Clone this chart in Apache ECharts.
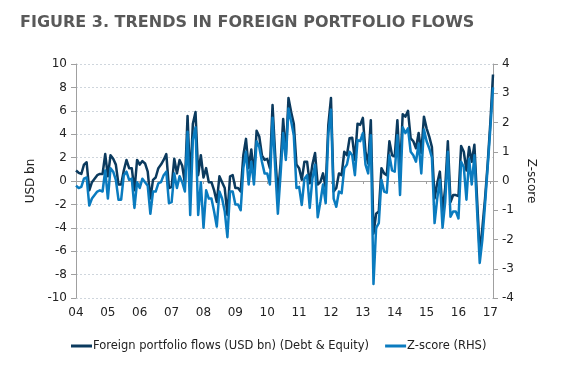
<!DOCTYPE html>
<html>
<head>
<meta charset="utf-8">
<script src="https://cdn.jsdelivr.net/npm/echarts@6/dist/echarts.min.js"></script>
<style>html,body{margin:0;padding:0;background:#fff}#c{width:580px;height:370px}</style>
</head>
<body>
<div id="c"></div>
<script>
var titleText = 'FIGURE 3. TRENDS IN FOREIGN PORTFOLIO FLOWS';
var seriesNames = ['Foreign portfolio flows (USD bn) (Debt & Equity)', 'Z-score (RHS)'];
var years = ['04','05','06','07','08','09','10','11','12','13','14','15','16','17'];
var months = ['01','02','03','04','05','06','07','08','09','10','11','12'];
var nPoints = 158; // Jan 2004 .. Feb 2017
var leftTicks = {min: -10, max: 10, step: 2};
var rightTicks = {min: -4, max: 4, step: 1};

var flows = [
 0.9,0.7,0.6,1.4,1.6,-0.8,-0.1,0.2,0.5,0.6,0.6,2.3,
 0.4,2.2,1.9,1.4,-0.3,-0.3,0.9,1.8,1.1,1.1,-0.8,1.8,
 1.4,1.7,1.5,0.8,-1.5,0.1,0.3,1.1,1.4,1.8,2.3,-0.6,
 -0.5,1.9,0.65,1.8,1.3,-0.2,5.55,-0.1,4.9,5.9,0.5,2.2,
 0.3,1.1,-0.1,-0.1,-0.8,-1.8,0.4,-0.1,-0.6,-2.9,0.4,0.5,
 -0.6,-0.6,-0.9,2.2,3.6,1.1,2.7,0.5,4.3,3.8,2.2,1.8,
 1.9,1.1,6.5,2.2,-1.2,1.4,5.3,2.2,7.1,5.9,4.9,1.4,
 1.1,0.1,1.65,1.65,-0.2,1.4,2.4,-0.3,-0.1,0.65,-0.6,4.8,
 7.1,-0.9,-0.6,0.65,0.5,2.5,2.2,3.65,3.7,1.8,4.9,4.8,
 5.4,2.5,1.5,5.2,-4.5,-2.8,-2.6,1.1,0.65,0.5,3.4,2.2,
 2.1,5.2,0.8,5.7,5.5,6.0,3.65,3.4,2.8,4.1,2.4,5.5,
 4.5,3.8,2.9,-1.5,-0.2,0.8,-2.6,-0.6,3.4,-1.8,-1.2,-1.2,
 -1.3,3.0,2.5,0.9,2.9,1.65,3.1,-1.5,-6.2,-4.0,-1.5,1.5,
 5.0,9.1
];
var zscore = [
 -0.16,-0.24,-0.2,0.08,0.12,-0.84,-0.6,-0.48,-0.36,-0.32,-0.36,0.36,
 -0.6,0.44,0.32,0.04,-0.64,-0.64,0.2,0.32,0.04,0.08,-0.92,-0.04,
 -0.24,0.08,-0.04,-0.16,-1.12,-0.36,-0.36,-0.08,-0.04,0.2,0.32,-0.76,
 -0.72,0.26,-0.24,0.16,-0.04,-0.36,1.68,-1.16,1.4,1.84,-1.16,-0.04,
 -1.6,-0.32,-0.6,-0.6,-1.04,-1.56,-0.36,-0.6,-1.04,-1.92,-0.36,-0.36,
 -0.8,-0.8,-1.0,0.44,1.0,-0.12,0.66,-0.12,1.36,1.16,0.66,0.26,
 0.26,-0.12,2.16,0.44,-1.12,0.2,1.64,0.72,2.48,2.04,1.56,-0.24,
 -0.2,-0.82,0.08,0.2,-0.92,0.08,0.56,-1.24,-0.72,-0.12,-0.76,1.6,
 2.44,-0.6,-0.88,-0.36,-0.42,0.44,0.56,1.0,0.88,0.2,1.4,1.36,
 1.64,0.56,0.26,1.56,-3.52,-1.6,-1.44,0.04,-0.36,-0.4,0.88,0.36,
 0.32,1.56,-0.48,1.84,1.64,1.8,1.0,0.88,0.66,1.28,0.26,1.76,
 1.36,1.12,0.8,-1.44,-0.6,0.04,-1.6,-0.72,1.0,-1.22,-1.04,-1.04,
 -1.28,0.66,0.48,-0.64,0.76,-0.12,0.88,-1.0,-2.8,-2.0,-0.8,0.48,
 1.8,3.2
];

var categories = [];
years.forEach(function (y) { months.forEach(function (m) { categories.push(y + '-' + m); }); });
categories = categories.slice(0, nPoints);

var darkColor = '#0b3a5e';
var lightColor = '#0a7bbf';
var font = 'DejaVu Sans';
var isYearStart = function (idx, val) { return /-01$/.test(categories[idx]); };

var chart = echarts.init(document.getElementById('c'), null, {renderer: 'canvas'});
chart.setOption({
  animation: false,
  backgroundColor: '#fff',
  title: {
    text: titleText, left: 15, top: 10,
    textStyle: {fontFamily: font, fontWeight: 'bold', fontSize: 16, color: '#595959'}
  },
  legend: {
    top: 335, left: 66,
    icon: 'rect', itemWidth: 21, itemHeight: 3, itemGap: 16,
    textStyle: {fontFamily: font, fontSize: 11.5, color: '#222', padding: [0, 0, 0, -4]},
    data: seriesNames
  },
  grid: {left: 76, right: 87, top: 64, bottom: 72},
  xAxis: [{
    type: 'category', data: categories, boundaryGap: false, position: 'bottom',
    axisLine: {onZero: true, lineStyle: {color: '#a0a0a0', width: 1}},
    axisTick: {show: true, interval: isYearStart, length: 3, lineStyle: {color: '#a0a0a0'}},
    axisLabel: {show: false},
    splitLine: {show: false}
  }, {
    type: 'category', data: categories, boundaryGap: false, position: 'bottom',
    axisLine: {show: false, onZero: false},
    axisTick: {show: false},
    axisLabel: {
      interval: isYearStart, margin: 9,
      fontFamily: font, fontSize: 12, color: '#222',
      formatter: function (v) { return v.slice(0, 2); }
    },
    splitLine: {show: false}
  }],
  yAxis: [{
    type: 'value', min: leftTicks.min, max: leftTicks.max, interval: leftTicks.step,
    position: 'left',
    name: 'USD bn', nameLocation: 'middle', nameRotate: 90, nameGap: 34,
    nameTextStyle: {fontFamily: font, fontSize: 12, color: '#222'},
    axisLine: {show: true, lineStyle: {color: '#a0a0a0'}},
    axisTick: {show: true, length: 5, lineStyle: {color: '#a0a0a0'}},
    axisLabel: {fontFamily: font, fontSize: 12, color: '#222', margin: 9},
    splitLine: {show: true, lineStyle: {color: '#cfd6dd', type: [2, 2], width: 1}}
  }, {
    type: 'value', min: rightTicks.min, max: rightTicks.max, interval: rightTicks.step,
    position: 'right',
    name: 'Z-score', nameLocation: 'middle', nameRotate: -90, nameGap: 24,
    nameTextStyle: {fontFamily: font, fontSize: 12, color: '#222'},
    axisLine: {show: true, lineStyle: {color: '#a0a0a0'}},
    axisTick: {show: true, length: 5, lineStyle: {color: '#a0a0a0'}},
    axisLabel: {fontFamily: font, fontSize: 12, color: '#222', margin: 9},
    splitLine: {show: false}
  }],
  series: [{
    name: seriesNames[0], type: 'line', xAxisIndex: 0, yAxisIndex: 0,
    data: flows, showSymbol: false, symbol: 'none',
    lineStyle: {color: darkColor, width: 2.5, join: 'round'},
    itemStyle: {color: darkColor}
  }, {
    name: seriesNames[1], type: 'line', xAxisIndex: 0, yAxisIndex: 1,
    data: zscore, showSymbol: false, symbol: 'none',
    lineStyle: {color: lightColor, width: 2.5, join: 'round'},
    itemStyle: {color: lightColor}
  }]
});
</script>
</body>
</html>
